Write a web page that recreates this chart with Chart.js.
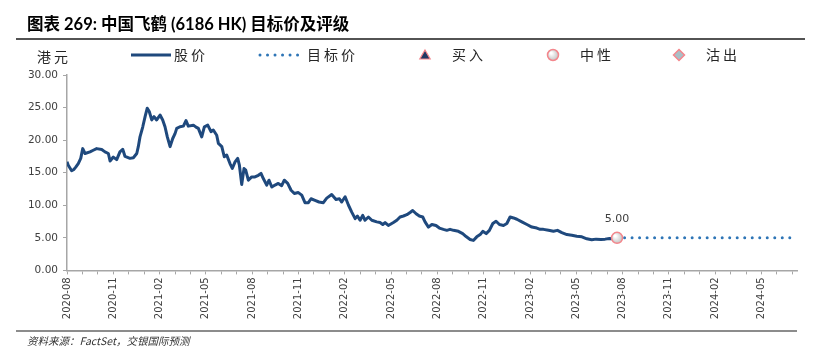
<!DOCTYPE html>
<html><head><meta charset="utf-8">
<script src="https://cdn.jsdelivr.net/npm/chart.js@4.4.1/dist/chart.umd.min.js"></script>
<style>html,body{margin:0;padding:0;background:#fff}#wrap{width:814px;height:355px;position:relative}</style>
</head><body><div id="wrap"><canvas id="c" width="814" height="355"></canvas></div>
<script>
const titleText = '图表 269: 中国飞鹤 (6186 HK) 目标价及评级';
const sourceText = '资料来源：FactSet，交银国际预测';
const unitText = '港元';
const legendLabels = ['股价', '目标价', '买入', '中性', '沽出'];
const yTickStep = 5;
const yMax = 30;
const axisStartYear = 2020;
const axisStartMonth = 8;      // axis starts 2020-08, x values are months elapsed since then
const axisEndMonths = 47.3;
const tickLabelEvery = 3;

const priceMonths = [0.00,0.08,0.30,0.45,0.58,0.73,0.89,1.02,1.17,1.49,
1.70,1.92,2.25,2.46,2.68,2.79,3.00,3.22,3.43,3.61,
3.76,4.08,4.30,4.52,4.62,4.73,4.91,5.06,5.20,5.33,
5.49,5.64,5.81,6.03,6.20,6.35,6.50,6.68,6.85,7.00,
7.11,7.32,7.54,7.71,7.86,8.19,8.36,8.51,8.73,8.90,
9.12,9.33,9.48,9.70,9.81,10.03,10.19,10.35,10.56,10.71,
10.89,11.06,11.17,11.32,11.47,11.58,11.75,11.97,12.18,12.40,
12.57,12.72,12.94,13.09,13.27,13.48,13.69,13.91,14.08,14.30,
14.52,14.73,14.99,15.21,15.42,15.64,15.81,16.07,16.33,16.61,
16.83,17.15,17.43,17.65,17.80,18.02,18.24,18.45,18.67,18.82,
18.99,19.16,19.31,19.53,19.75,20.07,20.28,20.46,20.61,20.82,
21.15,21.37,21.58,21.80,22.02,22.23,22.40,22.62,22.83,23.05,
23.20,23.42,23.64,23.91,24.13,24.39,24.61,24.82,25.04,25.36,
25.64,25.86,26.12,26.33,26.55,26.77,26.94,27.16,27.37,27.59,
27.80,28.02,28.28,28.50,28.71,28.93,29.15,29.47,29.80,30.12,
30.44,30.66,30.87,31.20,31.52,31.78,32.06,32.39,32.71,33.03,
33.36,33.68,34.00,34.28,34.59,34.87,35.15,35.40,35.64];
const priceValues = [16.7,16.15,15.3,15.5,15.9,16.4,17.2,18.7,17.95,18.2,
18.45,18.7,18.55,18.2,17.95,16.8,17.4,17.0,18.2,18.6,
17.5,17.2,17.3,17.95,19.0,20.5,22.05,23.6,24.9,24.4,
23.1,23.6,23.1,23.85,23.1,22.05,20.5,19.0,20.25,21.0,
21.8,22.05,22.15,23.0,22.15,22.3,22.0,21.8,20.5,22.05,
22.3,21.3,21.55,20.75,19.5,19.0,17.45,17.7,16.4,15.65,
16.65,17.2,16.15,13.2,15.65,15.4,13.85,14.35,14.35,14.6,
14.9,14.1,13.1,13.85,12.8,13.1,13.35,13.0,13.85,13.35,
12.3,11.8,11.95,11.55,10.4,10.4,11.0,10.75,10.5,10.4,
11.1,11.65,10.9,11.0,10.5,11.3,10.0,8.95,7.95,8.35,
7.7,8.45,7.7,8.2,7.7,7.45,7.35,7.05,7.35,6.9,
7.35,7.7,8.2,8.35,8.55,8.9,9.2,8.7,8.35,8.2,
7.45,6.65,7.05,6.9,6.5,6.3,6.15,6.3,6.15,6.0,
5.65,5.2,4.75,4.6,5.15,5.5,6.0,5.65,6.15,7.2,
7.55,7.05,6.9,7.2,8.2,8.05,7.85,7.45,7.05,6.65,
6.5,6.3,6.3,6.15,6.0,6.15,5.8,5.5,5.4,5.25,
5.15,4.85,4.7,4.8,4.75,4.8,4.9,4.85,4.95];

const targetMonths = [35.64, 47.0];
const targetValues = [5.0, 5.0];
const neutralMonths = [35.64];
const neutralValues = [5.0];

const priceColor = '#1f497d';
const targetColor = '#2e75b6';
const pinkBorder = '#f4868c';
const textColor = '#404040';
const axisColor = '#a6a6a6';
const cjkFont = '"Noto Sans CJK SC", sans-serif';
const numFont = '"DejaVu Sans", sans-serif';

function toPoints(xs, ys) { return xs.map((x, i) => ({ x: x, y: ys[i] })); }
function monthLabel(v) {
  const total = (axisStartMonth - 1) + v;
  const y = axisStartYear + Math.floor(total / 12);
  const m = (total % 12) + 1;
  return y + '-' + (m < 10 ? '0' + m : m);
}

const decorPlugin = {
  id: 'decor',
  afterDraw(chart) {
    const ctx = chart.ctx;
    ctx.save();
    // rules
    ctx.strokeStyle = '#1a1a1a'; ctx.lineWidth = 1.3;
    ctx.beginPath(); ctx.moveTo(16, 39); ctx.lineTo(805, 39); ctx.stroke();
    ctx.strokeStyle = '#8c8c8c'; ctx.lineWidth = 2;
    ctx.beginPath(); ctx.moveTo(16, 331); ctx.lineTo(797, 331); ctx.stroke();

    // unit + legend
    const y = 55;
    ctx.font = '14px ' + cjkFont;
    ctx.fillStyle = '#262626';
    ctx.textBaseline = 'middle';
    ctx.textAlign = 'left';
    try { ctx.letterSpacing = '3px'; } catch (e) {}
    ctx.fillText(unitText, 37, 57);

    ctx.strokeStyle = priceColor; ctx.lineWidth = 3; ctx.lineCap = 'butt';
    ctx.beginPath(); ctx.moveTo(131, y); ctx.lineTo(171, y); ctx.stroke();
    ctx.fillText(legendLabels[0], 174, y);

    ctx.strokeStyle = targetColor; ctx.lineWidth = 3; ctx.lineCap = 'round';
    ctx.setLineDash([0.01, 7.5]);
    ctx.beginPath(); ctx.moveTo(260, y); ctx.lineTo(300, y); ctx.stroke();
    ctx.setLineDash([]);
    ctx.fillText(legendLabels[1], 307, y);

    const H = Chart.helpers;
    ctx.lineCap = 'butt';
    ctx.lineJoin = 'miter';
    ctx.lineWidth = 1.2;
    ctx.fillStyle = '#1f3864'; ctx.strokeStyle = pinkBorder;
    H.drawPoint(ctx, { pointStyle: 'triangle', radius: 6, borderWidth: 1.2, rotation: 0 }, 425, y + 1);
    ctx.fillStyle = '#262626';
    ctx.fillText(legendLabels[2], 452, y);

    const g = ctx.createRadialGradient(551, y - 2, 1, 553, y, 6);
    g.addColorStop(0, '#ffffff'); g.addColorStop(1, '#bfbfbf');
    ctx.lineWidth = 1.5;
    ctx.fillStyle = g; ctx.strokeStyle = pinkBorder;
    H.drawPoint(ctx, { pointStyle: 'circle', radius: 5.5, borderWidth: 1.5, rotation: 0 }, 553, y);
    ctx.fillStyle = '#262626';
    ctx.fillText(legendLabels[3], 580, y);

    ctx.lineWidth = 1.5;
    ctx.fillStyle = '#a9bfc6'; ctx.strokeStyle = pinkBorder;
    H.drawPoint(ctx, { pointStyle: 'rectRot', radius: 5.5, borderWidth: 1.5, rotation: 0 }, 679, y);
    ctx.fillStyle = '#262626';
    ctx.fillText(legendLabels[4], 706, y);
    try { ctx.letterSpacing = '0px'; } catch (e) {}

    // value label above the rating point
    const meta = chart.getDatasetMeta(0);
    if (meta && meta.data[0]) {
      const p = meta.data[0];
      ctx.font = '11px ' + numFont;
      ctx.fillStyle = textColor;
      ctx.textAlign = 'center';
      ctx.textBaseline = 'middle';
      ctx.fillText(neutralValues[0].toFixed(2), p.x, p.y - 19);
    }
    ctx.restore();
  }
};

new Chart(document.getElementById('c'), {
  type: 'line',
  data: {
    datasets: [
      {
        label: '中性',
        data: toPoints(neutralMonths, neutralValues),
        showLine: false,
        pointStyle: 'circle',
        pointRadius: 5.5,
        pointBorderWidth: 1.5,
        pointBorderColor: pinkBorder,
        pointBackgroundColor: (c) => {
          const ch = c.chart;
          const xs = ch.scales && ch.scales.x, ys = ch.scales && ch.scales.y;
          if (!xs || !ys || !ch.chartArea) return '#dcdcdc';
          const px = xs.getPixelForValue(neutralMonths[0]);
          const py = ys.getPixelForValue(neutralValues[0]);
          if (!isFinite(px) || !isFinite(py)) return '#dcdcdc';
          const g = ch.ctx.createRadialGradient(px - 2, py - 2, 1, px, py, 6);
          g.addColorStop(0, '#ffffff'); g.addColorStop(1, '#bfbfbf');
          return g;
        }
      },
      {
        label: '目标价',
        data: toPoints(targetMonths, targetValues),
        borderColor: targetColor,
        borderWidth: 3,
        borderDash: [0.01, 7.5],
        borderCapStyle: 'round',
        pointRadius: 0,
        fill: false
      },
      {
        label: '股价',
        data: toPoints(priceMonths, priceValues),
        borderColor: priceColor,
        borderWidth: 3,
        borderJoinStyle: 'round',
        pointRadius: 0,
        tension: 0,
        fill: false
      }
    ]
  },
  options: {
    responsive: false,
    animation: false,
    devicePixelRatio: 1,
    layout: { padding: { left: 27, right: 17, top: 0, bottom: 0 } },
    plugins: {
      legend: { display: false },
      tooltip: { enabled: false },
      title: {
        display: true, text: titleText, align: 'start', color: '#000',
        font: { family: 'Lato, "Noto Sans CJK SC", sans-serif', size: 16.5, weight: 'bold' },
        padding: { top: 15.1, bottom: 40.1 }
      },
      subtitle: {
        display: true, text: sourceText, align: 'start', position: 'bottom', color: '#333',
        font: { family: cjkFont, size: 10.5, style: 'italic' },
        padding: { top: 3, bottom: 8 }
      }
    },
    scales: {
      x: {
        type: 'linear',
        min: 0, max: axisEndMonths,
        afterFit(s) { s.height = 61; },
        border: { display: true, color: axisColor, width: 1.5 },
        grid: { display: true, drawOnChartArea: false, drawTicks: true, tickLength: 4, color: axisColor },
        ticks: {
          stepSize: 1, autoSkip: false, includeBounds: false,
          minRotation: 90, maxRotation: 90, padding: 3,
          color: textColor, font: { family: numFont, size: 10 },
          callback: (v) => (Number.isInteger(v) && v % tickLabelEvery === 0) ? monthLabel(v) : ''
        }
      },
      y: {
        min: 0, max: yMax,
        afterFit(s) { s.width = 40; },
        border: { display: true, color: axisColor, width: 1.5 },
        grid: { display: true, drawOnChartArea: false, drawTicks: true, tickLength: 4, color: axisColor },
        ticks: {
          stepSize: yTickStep, padding: 5,
          color: textColor, font: { family: numFont, size: 10.5 },
          callback: (v) => Number(v).toFixed(2)
        }
      }
    }
  },
  plugins: [decorPlugin]
});
</script>
</body></html>
